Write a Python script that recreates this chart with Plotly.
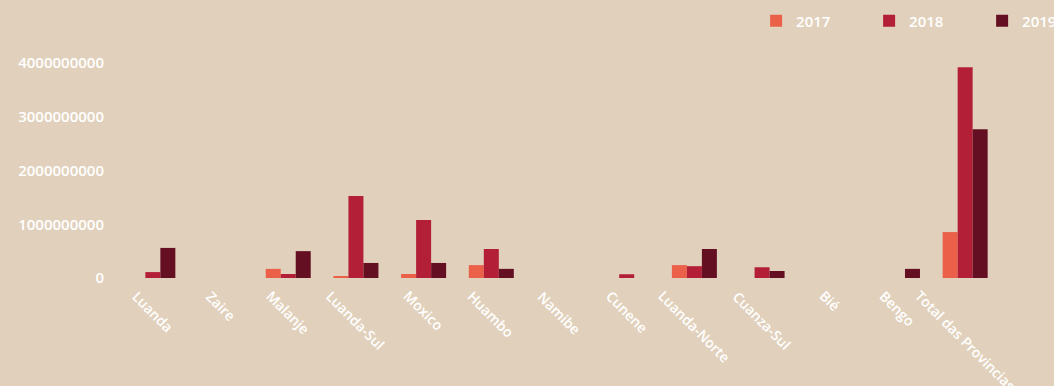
import plotly.graph_objects as go

categories = ["Luanda", "Zaire", "Malanje", "Luanda-Sul", "Moxico", "Huambo", "Namibe",
              "Cunene", "Luanda-Norte", "Cuanza-Sul", "Bié", "Bengo", "Total das Provincias"]
v2017 = [0, 0, 170000000, 35000000, 75000000, 240000000, 0, 0, 240000000, 0, 0, 0, 855000000]
v2018 = [110000000, 0, 75000000, 1525000000, 1080000000, 540000000, 0, 70000000, 220000000, 200000000, 0, 0, 3925000000]
v2019 = [560000000, 0, 500000000, 280000000, 280000000, 170000000, 0, 0, 540000000, 130000000, 0, 170000000, 2770000000]

series = [("2017", v2017, "#EA6049"), ("2018", v2018, "#B31F37"), ("2019", v2019, "#641022")]

BG = "#E1D1BC"
fnt = dict(family="Open Sans, sans-serif", color="white", size=14, weight=600)

fig = go.Figure()
for name, vals, col in series:
    fig.add_trace(go.Bar(x=categories, y=vals, name=name, marker=dict(color=col, line=dict(width=0))))

# category labels, rotated around their centre and centred under each group
for c in categories:
    fig.add_annotation(x=c, xref="x", y=0, yref="paper", yanchor="top", xanchor="center",
                       yshift=-6, textangle=45, showarrow=False, text=c, font=fnt)

fig.update_layout(
    width=1054, height=386,
    paper_bgcolor=BG, plot_bgcolor=BG,
    margin=dict(l=119, r=55, t=40, b=108, autoexpand=False),
    barmode="group", bargap=0.335, bargroupgap=0,
    font=fnt,
    showlegend=True,
    legend=dict(orientation="h", x=0.724, xanchor="left", y=1.08, yanchor="middle",
                font=dict(family="Open Sans, sans-serif", color="white", size=15, weight=600),
                entrywidth=68, entrywidthmode="pixels", bgcolor="rgba(0,0,0,0)"),
    xaxis=dict(type="category", range=[-0.5, len(categories) - 0.5], showticklabels=False,
               showgrid=False, showline=False, zeroline=False, ticks="", automargin=False),
    yaxis=dict(range=[0, 4.43e9], tickvals=[0, 1e9, 2e9, 3e9, 4e9], tickformat="d",
               showgrid=False, showline=False, zeroline=False, ticks="",
               tickfont=dict(family="Open Sans, sans-serif", color="white", size=15, weight=600),
               ticklabelstandoff=14, automargin=False),
)

fig.write_html("out.html")
